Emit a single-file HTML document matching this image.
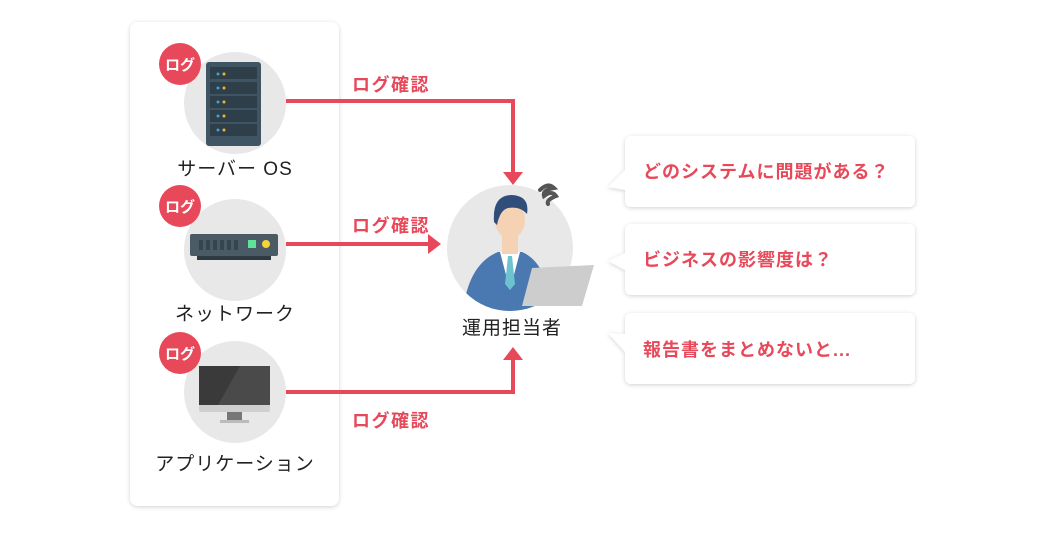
<!DOCTYPE html>
<html><head><meta charset="utf-8"><style>
body{margin:0;background:#fff;width:1060px;height:537px;overflow:hidden}
text{font-family:"Liberation Sans","Noto Sans CJK JP",sans-serif}
</style></head><body>
<svg width="1060" height="537" viewBox="0 0 1060 537" xmlns="http://www.w3.org/2000/svg">
<defs>
<filter id="sh" x="-10%" y="-10%" width="120%" height="130%"><feDropShadow dx="0" dy="1" stdDeviation="2" flood-color="#000" flood-opacity="0.18"/></filter>
<clipPath id="pc"><circle cx="510" cy="248" r="63"/></clipPath>
</defs>
<rect x="130" y="22" width="209" height="484" rx="8" fill="#fff" filter="url(#sh)"/>
<g stroke="#e8495a" stroke-width="4" fill="none">
<polyline points="286,101 513,101 513,172"/>
<line x1="286" y1="244" x2="428" y2="244"/>
<polyline points="286,392 513,392 513,360"/>
</g>
<g fill="#e8495a">
<polygon points="503,172 523,172 513,185"/>
<polygon points="428,234 428,254 441,244"/>
<polygon points="503,360 523,360 513,347"/>
</g>
<g fill="#e8495a" font-size="18" font-weight="bold" letter-spacing="1.5">
<text x="352" y="91">ログ確認</text>
<text x="352" y="232">ログ確認</text>
<text x="352" y="427">ログ確認</text>
</g>
<g fill="#e8e8e8">
<circle cx="235" cy="103" r="51"/>
<circle cx="235" cy="250" r="51"/>
<circle cx="235" cy="392" r="51"/>
<circle cx="510" cy="248" r="63"/>
</g>
<rect x="206" y="62" width="55" height="84" rx="3" fill="#3f5563"/>
<g fill="#2e3f4a">
<rect x="210" y="67" width="47" height="12"/><rect x="210" y="82" width="47" height="12"/><rect x="210" y="96" width="47" height="12"/><rect x="210" y="110" width="47" height="12"/><rect x="210" y="124" width="47" height="12"/>
</g>
<g fill="#e8b830"><circle cx="224" cy="74" r="1.5"/><circle cx="224" cy="88" r="1.5"/><circle cx="224" cy="102" r="1.5"/><circle cx="224" cy="116" r="1.5"/><circle cx="224" cy="130" r="1.5"/></g>
<g fill="#3aa3d6"><circle cx="218" cy="74" r="1.5"/><circle cx="218" cy="88" r="1.5"/><circle cx="218" cy="102" r="1.5"/><circle cx="218" cy="116" r="1.5"/><circle cx="218" cy="130" r="1.5"/></g>
<rect x="190" y="234" width="88" height="22" rx="2" fill="#4a5b66"/>
<rect x="197" y="256" width="74" height="4" fill="#2e3a42"/>
<g fill="#36444d"><rect x="199" y="240" width="4" height="10"/><rect x="206" y="240" width="4" height="10"/><rect x="213" y="240" width="4" height="10"/><rect x="220" y="240" width="4" height="10"/><rect x="227" y="240" width="4" height="10"/><rect x="234" y="240" width="4" height="10"/></g>
<rect x="248" y="240" width="8" height="8" fill="#5de39a"/>
<circle cx="266" cy="244" r="4" fill="#f5d33a"/>
<rect x="199" y="366" width="71" height="46" rx="2" fill="#cfcfcf"/>
<rect x="199" y="366" width="71" height="39" fill="#3a3a3a"/>
<polygon points="240,366 270,366 270,405 218,405" fill="#4a4a4a"/>
<rect x="227" y="412" width="15" height="8" fill="#777"/>
<rect x="220" y="420" width="29" height="3" fill="#bbb"/>
<g fill="#e8495a"><circle cx="180" cy="64" r="21"/><circle cx="180" cy="206" r="21"/><circle cx="180" cy="353" r="21"/></g>
<g fill="#fff" font-size="15" font-weight="bold" text-anchor="middle">
<text x="180" y="70">ログ</text><text x="180" y="212">ログ</text><text x="180" y="359">ログ</text>
</g>
<g fill="#222" font-size="19" text-anchor="middle" letter-spacing="1">
<text x="235" y="175">サーバー OS</text>
<text x="235" y="320">ネットワーク</text>
<text x="235" y="470">アプリケーション</text>
<text x="512" y="334">運用担当者</text>
</g>
<g clip-path="url(#pc)">
<path d="M462,320 Q466,265 498,252 L522,252 Q550,264 552,320 Z" fill="#4a78b0"/>
<polygon points="500,252 520,252 510,290" fill="#fff"/>
<polygon points="508,256 512,256 515,284 510,290 505,284" fill="#6cc3cf"/>
</g>
<rect x="502" y="230" width="16" height="24" fill="#f6d2b4"/>
<ellipse cx="510" cy="220" rx="15" ry="19" fill="#f6d2b4"/>
<path d="M494,222 Q492,195 512,195 Q530,196 527,214 Q520,206 508,208 Q500,210 497,225 Z" fill="#2f4f7a"/>
<polygon points="532,268 594,265 582,306 522,306" fill="#cdcdcd"/>
<path d="M540,190 q8,-8 14,-2 q-12,2 -10,8 q8,-6 12,0 q-10,4 -8,8" stroke="#555" stroke-width="4" fill="none" stroke-linecap="round"/>
<g fill="#fff" filter="url(#sh)">
<path d="M631,136 H909 a6,6 0 0 1 6,6 V201 a6,6 0 0 1 -6,6 H631 a6,6 0 0 1 -6,-6 V190 L608,187 L625,170 V142 a6,6 0 0 1 6,-6 Z"/>
<path d="M631,224 H909 a6,6 0 0 1 6,6 V289 a6,6 0 0 1 -6,6 H631 a6,6 0 0 1 -6,-6 V270 L608,261 L625,253 V230 a6,6 0 0 1 6,-6 Z"/>
<path d="M631,313 H909 a6,6 0 0 1 6,6 V378 a6,6 0 0 1 -6,6 H631 a6,6 0 0 1 -6,-6 V352 L608,333 L625,334 V319 a6,6 0 0 1 6,-6 Z"/>
</g>
<g fill="#e8495a" font-size="18" font-weight="bold" letter-spacing="1">
<text x="643" y="178">どのシステムに問題がある？</text>
<text x="643" y="266">ビジネスの影響度は？</text>
<text x="643" y="356">報告書をまとめないと...</text>
</g>
</svg>
</body></html>
